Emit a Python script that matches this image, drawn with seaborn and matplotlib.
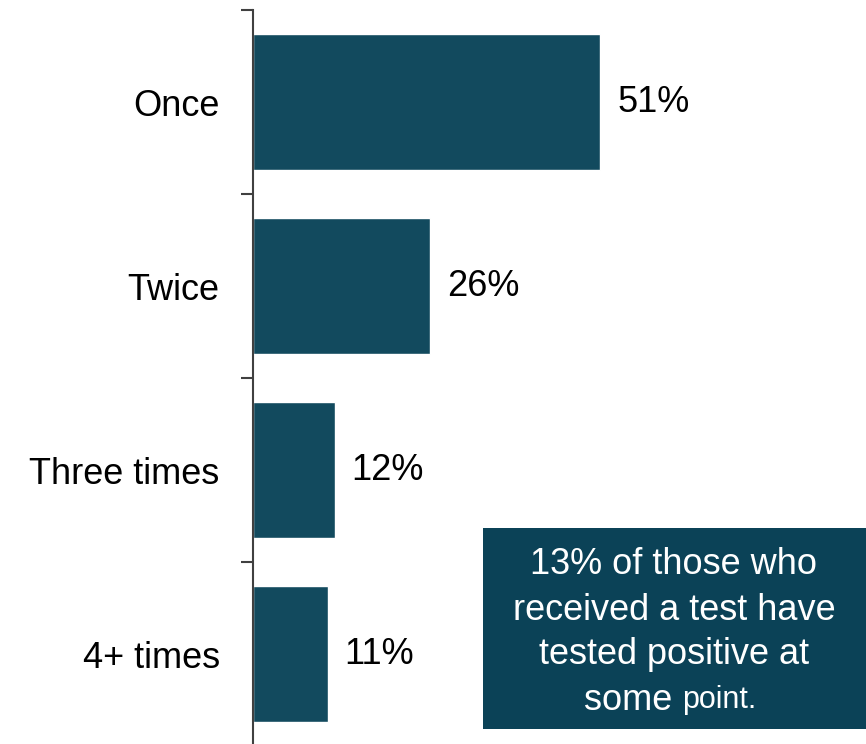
import pandas as pd
import seaborn as sns
import matplotlib.pyplot as plt
from matplotlib.patches import Rectangle

categories = ['Once', 'Twice', 'Three times', '4+ times']
shares = [51, 26, 12, 11]
note_lines = ['13% of those who', 'received a test have', 'tested positive at']

bar_color = '#124A5E'
box_color = '#0B4257'

df = pd.DataFrame({'times': categories, 'share': shares})

sns.set_style('white')
plt.rcParams['font.family'] = ['Liberation Sans', 'DejaVu Sans']

fig = plt.figure(figsize=(8.66, 7.44), dpi=100)
ax = fig.add_axes([253 / 866, -2 / 744, 1 - 253 / 866, 736 / 744])

sns.barplot(data=df, y='times', x='share', orient='h', color=bar_color,
            saturation=1, width=0.74, ax=ax)

ax.bar_label(ax.containers[0], labels=[f'{v}%' for v in shares],
             padding=12, fontsize=26, color='black')

ax.set_xlim(0, 90)
ax.set_ylim(3.5, -0.5)
ax.set_xlabel('')
ax.set_ylabel('')
ax.set_xticks([])

# labels at the bar centres, tick marks between the bars
ax.tick_params(axis='y', which='major', length=0, pad=24, labelsize=26, labelcolor='black')
ax.set_yticks([-0.5, 0.5, 1.5, 2.5, 3.5], minor=True)
ax.tick_params(axis='y', which='minor', length=8.5, width=1.5, color='#404040', left=True)

for side in ['top', 'right', 'bottom']:
    ax.spines[side].set_visible(False)
ax.spines['left'].set_color('#404040')
ax.spines['left'].set_linewidth(1.5)

# callout box
fig.patches.append(Rectangle((483 / 866, 1 - 729 / 744), (866 - 483) / 866, 201 / 744,
                             transform=fig.transFigure, facecolor=box_color,
                             edgecolor='none', zorder=5))
for i, line in enumerate(note_lines):
    fig.text(674 / 866, 1 - (565 + 45 * i) / 744, line, ha='center', va='center',
             fontsize=26, color='white', zorder=6)
fig.text(682 / 866, 1 - 700 / 744, 'some ', ha='right', va='center',
         fontsize=26, color='white', zorder=6)
fig.text(682 / 866, 1 - 700 / 744, 'point.', ha='left', va='center',
         fontsize=22, color='white', zorder=6)

plt.savefig('out.png', dpi=100)
